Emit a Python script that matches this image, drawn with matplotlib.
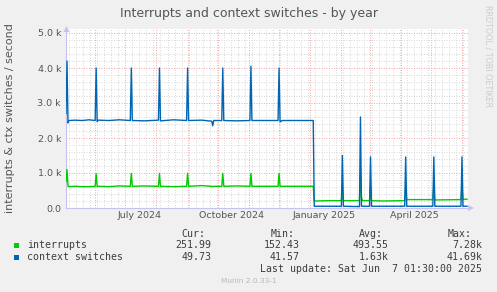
import matplotlib
matplotlib.use('Agg')
import matplotlib.pyplot as plt
import matplotlib.dates as mdates
from matplotlib.ticker import MultipleLocator
from matplotlib.patches import Polygon, Rectangle
import pandas as pd

# ---------------- data ----------------
dates = [
    '2024-05-03', '2024-05-04', '2024-05-05', '2024-05-06', '2024-05-12', '2024-05-19',
    '2024-05-26', '2024-06-01', '2024-06-02', '2024-06-03', '2024-06-04', '2024-06-15',
    '2024-06-25', '2024-07-06', '2024-07-07', '2024-07-08', '2024-07-20', '2024-08-03',
    '2024-08-04', '2024-08-05', '2024-08-18', '2024-08-31', '2024-09-01', '2024-09-02',
    '2024-09-15', '2024-09-25', '2024-09-26', '2024-09-27', '2024-10-05', '2024-10-06',
    '2024-10-07', '2024-10-20', '2024-11-02', '2024-11-03', '2024-11-04', '2024-11-17',
    '2024-11-30', '2024-12-01', '2024-12-02', '2024-12-04', '2025-01-04', '2025-01-05',
    '2025-01-20', '2025-02-01', '2025-02-02', '2025-02-03', '2025-02-19', '2025-02-20',
    '2025-02-21', '2025-02-22', '2025-03-01', '2025-03-02', '2025-03-03', '2025-03-15',
    '2025-04-05', '2025-04-06', '2025-04-07', '2025-05-03', '2025-05-04', '2025-05-05',
    '2025-05-31', '2025-06-01', '2025-06-02', '2025-06-06',
]
context_switches = [
    2700, 4200, 2430, 2500, 2510, 2500,
    2520, 2500, 4000, 2470, 2510, 2500,
    2520, 2500, 4000, 2500, 2490, 2510,
    4000, 2490, 2520, 2500, 4000, 2500,
    2510, 2480, 2350, 2500, 2500, 4000,
    2500, 2490, 2500, 4050, 2500, 2500,
    2500, 4000, 2460, 2500, 2500, 50,
    50, 50, 1500, 50, 40, 2600,
    50, 50, 50, 1460, 50, 50,
    50, 1460, 50, 50, 1460, 50,
    50, 1460, 50, 50,
]
interrupts = [
    750, 1100, 620, 610, 620, 610,
    610, 620, 980, 610, 620, 610,
    630, 620, 990, 620, 630, 620,
    990, 620, 610, 620, 990, 620,
    640, 620, 610, 620, 620, 990,
    620, 630, 620, 990, 620, 620,
    620, 990, 620, 620, 620, 200,
    210, 210, 620, 210, 210, 1000,
    300, 210, 210, 620, 210, 200,
    210, 620, 240, 240, 620, 230,
    240, 620, 250, 250,
]

x_label_texts = ['July 2024', 'October 2024', 'January 2025', 'April 2025']
x_label_dates = ['2024-07-15', '2024-10-15', '2025-01-15', '2025-04-15']
y_ticks = [0, 1000, 2000, 3000, 4000, 5000]
y_tick_labels = ['0.0', '1.0 k', '2.0 k', '3.0 k', '4.0 k', '5.0 k']

series_names = ['interrupts', 'context switches']
series_colors = ['#00cc00', '#0066b3']
cur_vals = ['251.99', '49.73']
min_vals = ['152.43', '41.57']
avg_vals = ['493.55', '1.63k']
max_vals = ['7.28k', '41.69k']

title = 'Interrupts and context switches - by year'
ylabel = 'interrupts & ctx switches / second'
last_update = 'Last update: Sat Jun  7 01:30:00 2025'

# ---------------- figure ----------------
W, H = 497, 292
BG = '#f0f0f0'
AXC = '#c4c4f0'
TXT = '#555555'


def fx(px):
    return px / W


def fy(py):
    return 1 - py / H


fig = plt.figure(figsize=(W / 100, H / 100), dpi=100, facecolor=BG)
ax = fig.add_axes([fx(66), fy(208), fx(468) - fx(66), fy(29) - fy(208)])
ax.set_facecolor('white')

d = pd.to_datetime(dates)
ax.plot(d, interrupts, color=series_colors[0], lw=1.0, zorder=3)
ax.plot(d, context_switches, color=series_colors[1], lw=1.0, zorder=4)

ax.set_xlim(pd.Timestamp('2024-05-03'), pd.Timestamp('2025-06-07'))
ax.set_ylim(0, 5000 * 179 / 175)

ax.xaxis.set_major_locator(mdates.MonthLocator())
ax.xaxis.set_minor_locator(mdates.WeekdayLocator(byweekday=mdates.MO))
ax.set_yticks(y_ticks, y_tick_labels)
ax.yaxis.set_minor_locator(MultipleLocator(200))

ax.set_axisbelow(True)
ax.grid(which='minor', color='#dadada', linestyle=(0, (1, 1.5)), linewidth=0.72)
ax.grid(which='major', color='#f2aaaa', linestyle=(0, (1, 1.5)), linewidth=0.72)

ax.tick_params(axis='x', which='both', length=0, labelbottom=False)
ax.tick_params(axis='y', which='both', length=0, pad=3.6, labelsize=6.8, labelcolor=TXT)

for s in ['top', 'right']:
    ax.spines[s].set_visible(False)
for s in ['left', 'bottom']:
    ax.spines[s].set_color(AXC)
    ax.spines[s].set_linewidth(0.8)

for lab, dt in zip(x_label_texts, x_label_dates):
    ax.text(pd.Timestamp(dt), (208 - 215.5) / 179, lab, transform=ax.get_xaxis_transform(),
            ha='center', va='center', fontsize=6.8, color=TXT)

# axis arrows
fig.add_artist(Polygon([[fx(66.5), fy(26)], [fx(63.5), fy(32)], [fx(69.5), fy(32)]],
                       closed=True, transform=fig.transFigure, facecolor=AXC, edgecolor='none'))
fig.add_artist(Polygon([[fx(474), fy(208)], [fx(468), fy(205)], [fx(468), fy(211)]],
                       closed=True, transform=fig.transFigure, facecolor=AXC, edgecolor='none'))

fig.text(fx(248.5), fy(13.5), title, ha='center', va='center', fontsize=9, color=TXT)
fig.text(fx(10), fy(118.5), ylabel, rotation=90, ha='center', va='center', fontsize=8, color=TXT)
fig.text(fx(488.3), fy(56.5), 'RRDTOOL / TOBI OETIKER', rotation=270, ha='center', va='center',
         fontsize=5.8, color='#cccccc')

# legend
MONO = dict(family='DejaVu Sans Mono', fontsize=7.1, color='#3c3c3c', va='center')
fig.text(fx(181.7), fy(234), 'Cur:', ha='left', **MONO)
fig.text(fx(270.7), fy(234), 'Min:', ha='left', **MONO)
fig.text(fx(359), fy(234), 'Avg:', ha='left', **MONO)
fig.text(fx(447.3), fy(234), 'Max:', ha='left', **MONO)
rows_y = [245.5, 257.3]
for i in range(2):
    y = rows_y[i]
    fig.add_artist(Rectangle((fx(14), fy(y + 2.5)), 5 / W, 5 / H, transform=fig.transFigure,
                             facecolor=series_colors[i], edgecolor='none'))
    fig.text(fx(26.7), fy(y), series_names[i], ha='left', **MONO)
    fig.text(fx(211.3), fy(y), cur_vals[i], ha='right', **MONO)
    fig.text(fx(299.3), fy(y), min_vals[i], ha='right', **MONO)
    fig.text(fx(388.3), fy(y), avg_vals[i], ha='right', **MONO)
    fig.text(fx(482.3), fy(y), max_vals[i], ha='right', **MONO)
fig.text(fx(482.3), fy(269.5), last_update, ha='right', **MONO)
fig.text(fx(248.5), fy(281), 'Munin 2.0.33-1', ha='center', va='center', fontsize=5.3, color='#b8b8b8')

fig.savefig('out.png', dpi=100, facecolor=BG)
